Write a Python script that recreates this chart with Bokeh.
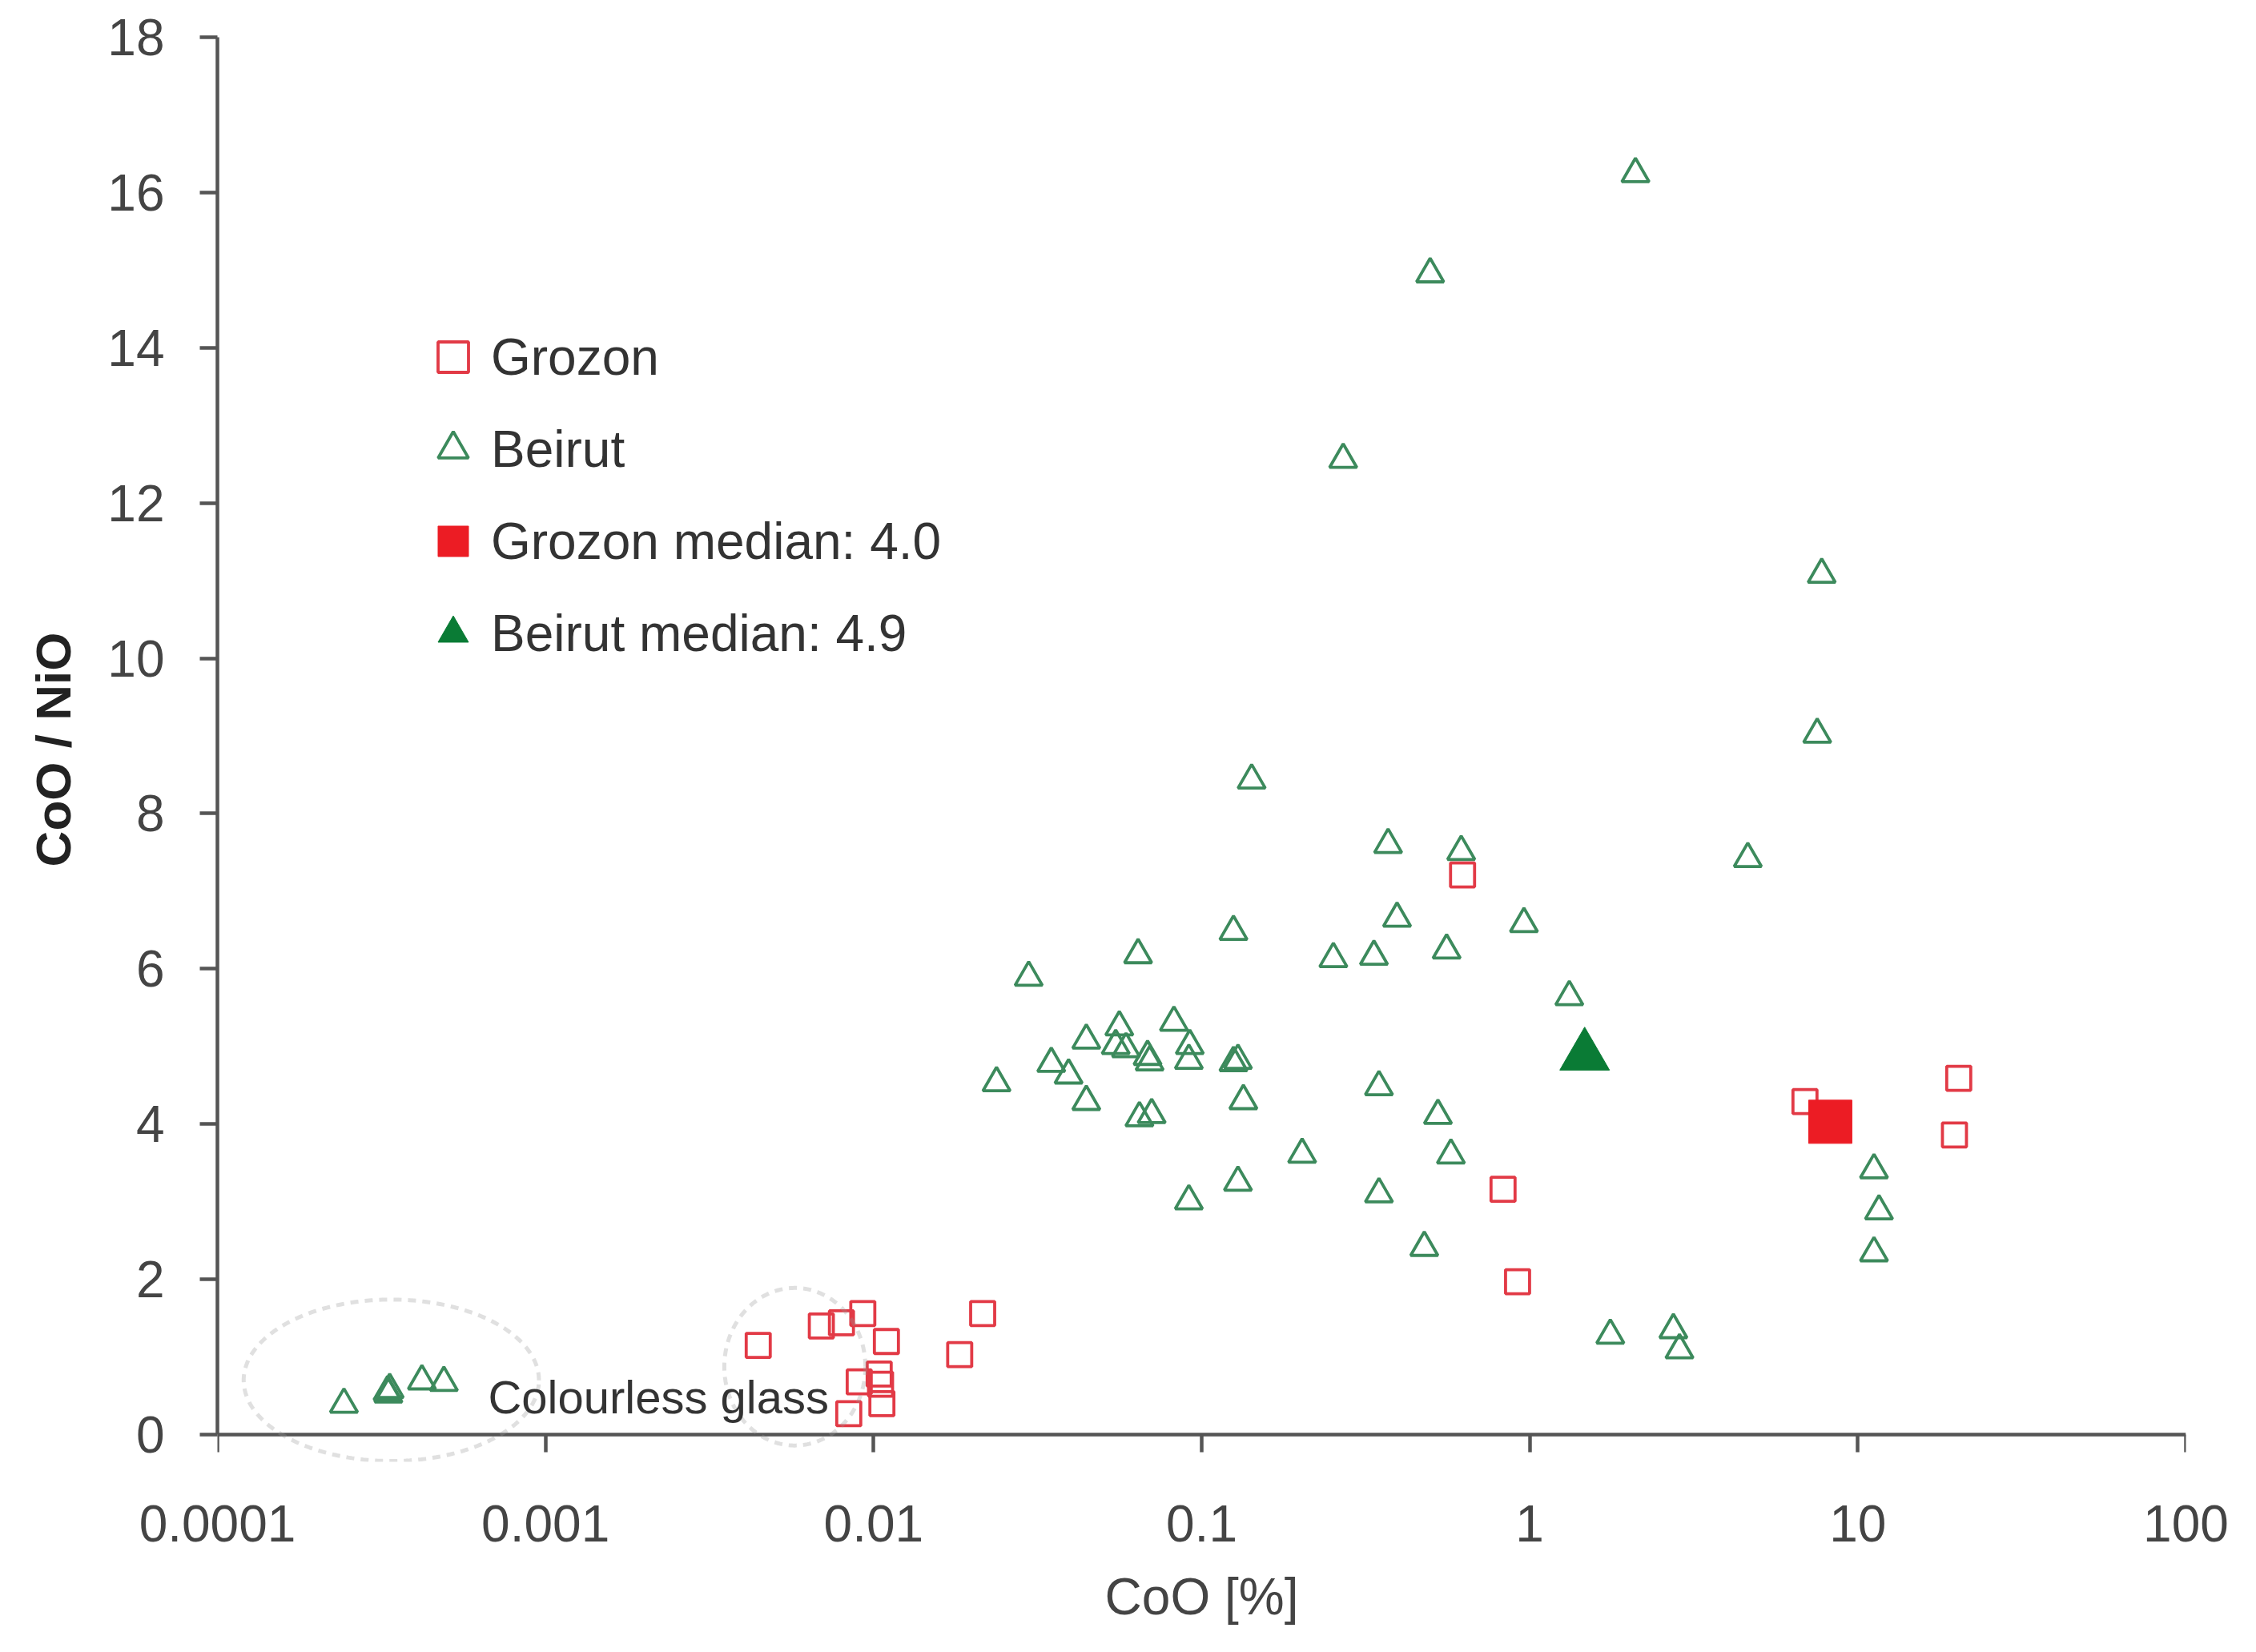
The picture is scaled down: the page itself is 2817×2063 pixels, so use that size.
import numpy as np
from bokeh.plotting import figure
from bokeh.models import (Range1d, FixedTicker, Legend, LegendItem, LogAxis,
                          PolyAnnotation, Label, ColumnDataSource)
from bokeh.embed import file_html
from bokeh.resources import INLINE

# ---------------- data ----------------
beirut_x = [2.10, 0.497, 0.270, 7.76, 7.52, 0.142, 0.37, 0.618, 4.62, 0.394,
            0.96, 0.125, 0.064, 0.252, 0.335, 0.558, 0.0297, 1.32, 0.0823, 0.0561,
            0.0445, 0.0547, 0.0588, 0.092, 0.0684, 0.0694, 0.0914, 0.129, 0.125, 0.0348,
            0.0393, 0.0237, 0.0445, 0.134, 0.0646, 0.0704, 0.347, 0.525, 0.2024, 0.575,
            11.2, 0.129, 0.0914, 0.347, 11.6, 11.2, 0.477, 1.76, 2.74, 2.86,
            0.000243, 0.00033, 0.000335, 0.000332, 0.00042, 0.00049]
beirut_y = [16.24, 14.95, 12.56, 11.08, 9.02, 8.43, 7.60, 7.51, 7.42, 6.65,
            6.58, 6.48, 6.18, 6.13, 6.16, 6.24, 5.89, 5.64, 5.31, 5.25,
            5.08, 5.01, 4.97, 5.01, 4.87, 4.80, 4.82, 4.82, 4.79, 4.78,
            4.63, 4.53, 4.29, 4.30, 4.08, 4.12, 4.48, 4.11, 3.61, 3.60,
            3.41, 3.25, 3.01, 3.10, 2.88, 2.34, 2.41, 1.28, 1.35, 1.09,
            0.39, 0.55, 0.58, 0.52, 0.69, 0.67]

grozon_x = [0.624, 20.3, 6.9, 19.7, 0.829, 0.918, 0.0215, 0.0183, 0.00927,
            0.00798, 0.00693, 0.00445, 0.01094, 0.00904, 0.0104, 0.0105, 0.0106, 0.0084]
grozon_y = [7.21, 4.59, 4.29, 3.86, 3.16, 1.97, 1.56, 1.03, 1.56,
            1.44, 1.40, 1.15, 1.20, 0.68, 0.78, 0.65, 0.40, 0.27]

grozon_median_x = [8.24]
grozon_median_y = [4.03]
beirut_median_x = [1.47]
beirut_median_y = [4.88]

legend_labels = ["Grozon", "Beirut", "Grozon median: 4.0", "Beirut median: 4.9"]

x_ticks = [0.0001, 0.001, 0.01, 0.1, 1, 10, 100]
x_tick_labels = ["0.0001", "0.001", "0.01", "0.1", "1", "10", "100"]
y_ticks = [0, 2, 4, 6, 8, 10, 12, 14, 16, 18]
y_axis_bounds = (0, 18)

annotation_text = "Colourless glass"
annotation_pos = (0.000668, 0.49)

# dashed ellipses: (log10 centre x, half width in decades, centre y, half height)
ellipses = [(-3.47, 0.45, 0.70, 1.04), (-2.24, 0.215, 0.875, 1.015)]

# ---------------- styles ----------------
GREEN_OPEN = "#3c8a5c"
GREEN_FILL = "#0a7b35"
RED_OPEN = "#e23a46"
RED_FILL = "#ec1c24"
AXIS_COL = "#555555"
FONT = "Liberation Sans"

p = figure(width=2800, height=2046, x_axis_type="log",
           x_range=Range1d(1e-4, 100), y_range=Range1d(-0.35, 18),
           output_backend="svg", toolbar_location=None,
           min_border_left=271, min_border_right=71,
           min_border_top=46, min_border_bottom=221)

p.xgrid.visible = False
p.ygrid.visible = False
p.outline_line_color = None
p.background_fill_color = "white"

# x axis at the frame bottom: carries only tick labels and the axis title
lab_ax = p.xaxis[0]
lab_ax.ticker = FixedTicker(ticks=x_ticks)
lab_ax.major_label_overrides = {t: l for t, l in zip(x_ticks, x_tick_labels)}
lab_ax.axis_line_color = None
lab_ax.major_tick_line_color = None
lab_ax.minor_tick_line_color = None
lab_ax.major_tick_out = 0
lab_ax.major_tick_in = 0
lab_ax.major_label_standoff = 54
lab_ax.major_label_text_font = FONT
lab_ax.major_label_text_font_size = "64px"
lab_ax.major_label_text_color = "#444444"
lab_ax.axis_label = "CoO [%]"
lab_ax.axis_label_text_font = FONT
lab_ax.axis_label_text_font_size = "64px"
lab_ax.axis_label_text_font_style = "normal"
lab_ax.axis_label_text_color = "#444444"
lab_ax.axis_label_standoff = 30

# x axis line and ticks drawn at y = 0
line_ax = LogAxis(ticker=FixedTicker(ticks=x_ticks), fixed_location=0,
                  axis_line_color=AXIS_COL, axis_line_width=4.5,
                  major_tick_line_color=AXIS_COL, major_tick_line_width=4.5,
                  major_tick_out=22, major_tick_in=0, minor_tick_line_color=None,
                  major_label_text_alpha=0, major_label_text_font_size="2px",
                  major_label_standoff=0)
line_ax.major_label_overrides = {t: "" for t in x_ticks}
p.add_layout(line_ax, "below")

yax = p.yaxis[0]
yax.bounds = y_axis_bounds
yax.ticker = FixedTicker(ticks=y_ticks)
yax.axis_line_color = AXIS_COL
yax.axis_line_width = 4.5
yax.major_tick_line_color = AXIS_COL
yax.major_tick_line_width = 4.5
yax.major_tick_out = 22
yax.major_tick_in = 0
yax.minor_tick_line_color = None
yax.major_label_text_font = FONT
yax.major_label_text_font_size = "64px"
yax.major_label_text_color = "#444444"
yax.major_label_standoff = 44
yax.axis_label = "CoO / NiO"
yax.axis_label_text_font = FONT
yax.axis_label_text_font_size = "62px"
yax.axis_label_text_font_style = "bold"
yax.axis_label_text_color = "#222222"
yax.axis_label_standoff = 30

# dashed ellipses (annotation shapes)
t = np.linspace(0, 2 * np.pi, 240)
for cx, hx, cy, hy in ellipses:
    xs = 10 ** (cx + hx * np.cos(t))
    ys = cy + hy * np.sin(t)
    p.add_layout(PolyAnnotation(xs=list(xs), ys=list(ys), fill_alpha=0,
                                line_color="#999999", line_width=5,
                                line_dash="10 8"))

src_b = ColumnDataSource(dict(x=beirut_x, y=beirut_y))
src_g = ColumnDataSource(dict(x=grozon_x, y=grozon_y))

r_b = p.scatter("x", "y", source=src_b, marker="triangle", size=34,
                fill_color=None, line_color=GREEN_OPEN, line_width=3.8)
r_g = p.scatter("x", "y", source=src_g, marker="square", size=30,
                fill_color=None, line_color=RED_OPEN, line_width=3.8)
r_gm = p.scatter(grozon_median_x, grozon_median_y, marker="square", size=54,
                 fill_color=RED_FILL, line_color=RED_FILL, line_width=1)
r_bm = p.scatter(beirut_median_x, beirut_median_y, marker="triangle", size=62,
                 fill_color=GREEN_FILL, line_color=GREEN_FILL, line_width=1)

p.add_layout(Label(x=annotation_pos[0], y=annotation_pos[1], text=annotation_text,
                   text_baseline="middle", text_align="left", text_font=FONT,
                   text_font_size="58px", text_color="#333333"))

legend = Legend(items=[LegendItem(label=legend_labels[0], renderers=[r_g]),
                       LegendItem(label=legend_labels[1], renderers=[r_b]),
                       LegendItem(label=legend_labels[2], renderers=[r_gm]),
                       LegendItem(label=legend_labels[3], renderers=[r_bm])],
                location=(247, 987), glyph_width=95, glyph_height=95,
                label_height=95, spacing=20, padding=0, margin=0,
                border_line_color=None, background_fill_alpha=0,
                label_standoff=0, label_text_font=FONT,
                label_text_font_size="64px", label_text_color="#333333")
p.add_layout(legend)

open("out.html", "w").write(file_html(p, INLINE))
